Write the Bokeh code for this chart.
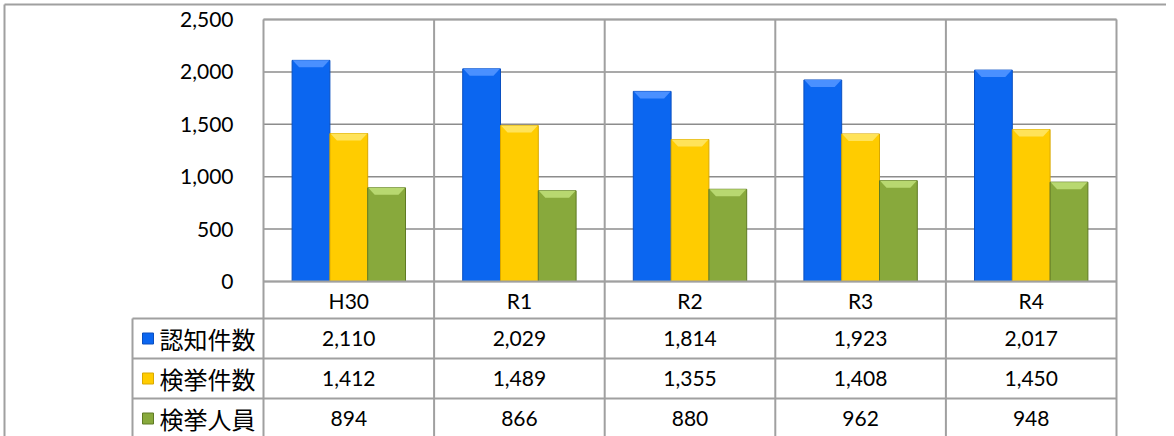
from bokeh.plotting import figure
from bokeh.models import Range1d
from bokeh.core.properties import value
from bokeh.embed import file_html
from bokeh.resources import INLINE

# ---------------- data ----------------
categories = ["H30", "R1", "R2", "R3", "R4"]
series_names = ["認知件数", "検挙件数", "検挙人員"]
ninchi_kensu = [2110, 2029, 1814, 1923, 2017]
kenkyo_kensu = [1412, 1489, 1355, 1408, 1450]
kenkyo_jinin = [894, 866, 880, 962, 948]
y_ticks = [0, 500, 1000, 1500, 2000, 2500]
y_tick_labels = ["0", "500", "1,000", "1,500", "2,000", "2,500"]

series_values = [ninchi_kensu, kenkyo_kensu, kenkyo_jinin]
bar_colors = ["#0b66f0", "#ffcc00", "#88a93c"]
bar_edges = ["#0a4fc0", "#d9a800", "#5f7a24"]
bevel_colors = ["#4a90ff", "#ffe35a", "#b8d870"]

# ---------------- layout (picture pixels -> data) ----------------
W, H = 1166, 436
PAGE0 = 0
PLOT_L, PLOT_R = 263, 1116
Y0_PX, YTOP_PX = 281, 19
YMAX = 2500
px_per_x = (PLOT_R - PLOT_L) / len(categories)
px_per_y = (Y0_PX - YTOP_PX) / YMAX


def dx(px):
    return (px - PLOT_L) / px_per_x


def dy(py):
    return (Y0_PX - py) / px_per_y


p = figure(width=W, height=H, output_backend="svg", toolbar_location=None,
           x_range=Range1d(dx(PAGE0), dx(PAGE0 + W)),
           y_range=Range1d(dy(PAGE0 + H), dy(PAGE0)),
           x_axis_location=None, y_axis_location=None, min_border=0)
p.grid.visible = False
p.outline_line_color = None
p.background_fill_color = "white"

GRID = "#8c8c8c"
TBL = "#a0a0a0"
NUM_FONT = value("Lato")
JP_FONT = value("Noto Sans CJK JP")
bottom = dy(PAGE0 + H + 20)

# outer chart border (top & left)
p.segment(x0=[dx(4), dx(4)], y0=[dy(4), dy(4)],
          x1=[dx(PAGE0 + W + 20), dx(4)], y1=[dy(4), bottom],
          line_color=TBL, line_width=2)

# gridlines
n = len(categories)
p.segment(x0=[0] * len(y_ticks), y0=y_ticks, x1=[n] * len(y_ticks), y1=y_ticks,
          line_color=GRID, line_width=1.5)

# y tick labels
p.text(x=[dx(233)] * len(y_ticks), y=y_ticks, text=y_tick_labels,
       text_align="right", text_baseline="middle", text_font=NUM_FONT,
       text_font_size="21px", text_color="#000000")

# bars
bw = 37.8 / px_per_x
offsets = [-bw, 0, bw]
bev_w = 7 / px_per_x
bev_h = 7 / px_per_y
for k, vals in enumerate(series_values):
    xs = [i + 0.5 + offsets[k] for i in range(n)]
    p.vbar(x=xs, top=vals, bottom=0, width=bw, fill_color=bar_colors[k],
           line_color=bar_edges[k], line_width=1)
    pxs, pys = [], []
    for xc, v in zip(xs, vals):
        l, r = xc - bw / 2, xc + bw / 2
        pxs.append([l + 0.5 / px_per_x, r - 0.5 / px_per_x, r - bev_w, l + bev_w])
        pys.append([v, v, v - bev_h, v - bev_h])
    p.patches(xs=pxs, ys=pys, fill_color=bevel_colors[k], line_color=None)

# plot-area border and table grid
ROW_TOP = [281, 318, 358, 398]
ROW_H = 40
LEG_L = 132
vx = list(range(n + 1))
p.segment(x0=vx, y0=[dy(YTOP_PX)] * len(vx), x1=vx, y1=[bottom] * len(vx),
          line_color=TBL, line_width=2)
p.segment(x0=[0], y0=[YMAX], x1=[n], y1=[YMAX], line_color=TBL, line_width=2)
p.segment(x0=[dx(LEG_L)], y0=[dy(318)], x1=[dx(LEG_L)], y1=[bottom],
          line_color=TBL, line_width=2)
hx0 = [0, dx(LEG_L), dx(LEG_L), dx(LEG_L)]
p.segment(x0=hx0, y0=[dy(v) for v in ROW_TOP], x1=[n] * 4, y1=[dy(v) for v in ROW_TOP],
          line_color=TBL, line_width=2)

# category labels
cx = [i + 0.5 for i in range(n)]
p.text(x=cx, y=[dy(300)] * n, text=categories, text_align="center",
       text_baseline="middle", text_font=NUM_FONT, text_font_size="21px",
       text_color="#000000")

# table values and legend
for k, vals in enumerate(series_values):
    yc = dy(318 + ROW_H * k + ROW_H / 2)
    p.text(x=cx, y=[yc] * n, text=[f"{v:,}" for v in vals], text_align="center",
           text_baseline="middle", text_font=NUM_FONT, text_font_size="21px",
           text_color="#000000")
    p.scatter(x=[dx(147.5)], y=[yc], marker="square", size=11,
              fill_color=bar_colors[k], line_color=bar_edges[k], line_width=1)
    p.text(x=[dx(159)], y=[yc], text=[series_names[k]], text_align="left",
           text_baseline="middle", text_font=JP_FONT, text_font_size="24px",
           text_color="#000000")

open("out.html", "w").write(file_html(p, INLINE))
